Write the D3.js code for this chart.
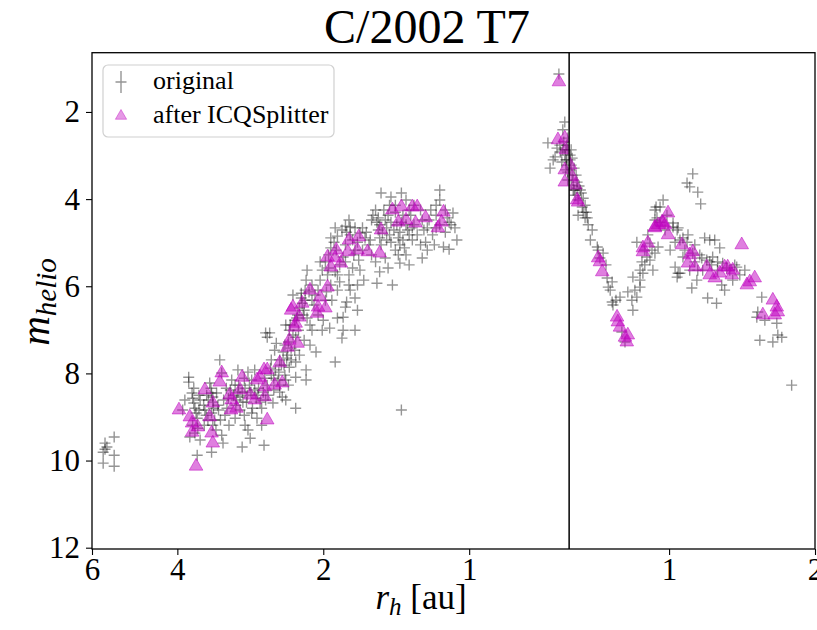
<!DOCTYPE html>
<html>
<head>
<meta charset="utf-8">
<script src="https://cdn.jsdelivr.net/npm/d3@7/dist/d3.min.js"></script>
<style>
  body { margin: 0; background: #fff; }
  svg { display: block; }
  text { font-family: "Liberation Serif", "DejaVu Serif", serif; fill: #000; }
</style>
</head>
<body>
<svg id="chart" width="817" height="630"></svg>
<script>
// C/2002 T7 (LINEAR): heliocentric magnitude vs heliocentric distance,
// inbound leg on the left (r falling to perihelion), outbound leg on the right.
const perihelionAU = 0.622;

// [r_h (au), m_helio] — all observations, inbound
const originalInbound = [
  [5.64,9.60],[5.59,9.69],[5.64,9.74],[5.69,9.81],[5.40,9.46],[5.40,9.88],[5.69,10.06],[5.40,10.13],
  [3.79,8.09],[3.79,8.20],[3.73,8.45],[3.72,8.57],[3.70,8.68],[3.68,8.80],[3.66,8.91],[3.64,9.03],[3.72,9.19],[3.63,9.26],[3.68,9.37],[3.77,9.46],[3.64,9.88],[3.86,8.61],[3.59,9.53],[3.90,8.84],[3.61,8.50],
  [3.59,8.61],[3.53,8.73],[3.49,8.96],[3.46,9.07],[3.45,8.61],[3.32,8.45],[3.29,8.84],[3.26,9.07],[3.21,8.61],[3.16,8.80],[3.52,9.19],[3.61,8.84],[3.70,8.34],
  [3.43,8.22],[3.41,8.34],[3.40,8.45],[3.38,8.54],[3.38,8.66],[3.37,8.80],[3.40,8.91],[3.35,9.07],[3.38,9.19],[3.33,9.30],[3.27,7.69],[3.24,7.99],[3.24,9.42],[3.22,9.60],[3.40,9.81],[3.48,8.50],[3.30,8.73],[3.19,8.96],[3.14,8.57],[3.51,8.84],[3.17,8.34],[3.13,9.19],
  [3.09,8.15],[3.04,8.27],[3.00,8.43],[2.97,8.54],[2.93,8.66],[2.90,8.34],[2.87,8.50],[3.03,8.73],[2.97,8.84],[2.91,8.96],[2.94,9.69],[2.83,9.49],[2.65,9.65],[2.81,8.15],[2.77,8.38],[2.73,8.50],[2.70,8.66],[2.68,8.80],[2.86,7.97],[3.00,7.92],[2.64,8.11],[2.61,8.27],[2.63,7.07],[2.80,8.80],[2.74,9.03],[2.68,9.19],[2.90,9.19],[3.04,9.03],[2.60,8.50],[2.77,7.92],[2.86,9.30],
  [3.11,8.38],[3.06,8.50],[3.02,8.61],[2.99,8.27],[2.94,8.43],[2.88,8.66],[2.84,8.27],[2.82,8.43],[2.75,8.57],[2.72,8.34],[2.66,8.43],[2.63,8.61],[2.81,8.91],[2.91,8.11],
  [2.58,7.07],[2.61,7.17],[2.52,7.47],[2.46,7.69],[2.35,7.86],[2.43,8.54],[2.39,8.61],[2.54,8.68],[2.28,8.80],[2.56,8.04],[2.51,7.92],[2.48,8.15],[2.46,8.27],[2.40,8.04],[2.37,7.58],[2.33,7.42],[2.40,7.35],[2.35,7.01],[2.31,6.20],[2.29,6.78],[2.26,6.66],[2.28,7.17],[2.53,8.38],[2.44,7.81],[2.36,8.27],[2.56,7.69],[2.50,7.31],[2.33,7.69],[2.39,6.89],[2.25,7.01],
  [2.57,7.88],[2.53,8.11],[2.47,7.97],[2.41,7.81],[2.38,7.65],[2.42,7.51],[2.36,7.28],[2.31,7.12],[2.34,6.89],[2.27,6.73],[2.24,6.50],[2.22,6.27],[2.18,6.32],[2.14,6.13],[2.20,6.66],[2.29,7.47],[2.28,7.74],[2.46,8.43],[2.39,8.15],
  [2.22,6.16],[2.21,6.39],[2.17,7.92],[2.17,8.15],[2.28,8.09],[2.16,5.63],[2.17,5.86],[2.11,5.97],[2.03,5.86],[2.01,7.01],[1.94,6.96],[2.19,6.55],[2.16,6.73],[2.13,6.89],[2.11,6.32],[2.08,6.20],[2.05,6.09],[2.09,6.43],[2.19,7.24],[2.13,7.35],[2.05,6.66],[1.98,6.32],[1.96,5.74],[1.95,5.58],[2.07,7.51],[2.24,7.58],[2.00,6.78],[2.18,6.09],[2.03,5.44],[2.11,7.01],
  [1.93,4.89],[1.77,4.48],[1.76,4.64],[1.68,4.78],[1.88,5.17],[1.82,5.33],[1.70,5.97],[1.72,6.27],[1.79,6.36],[1.80,6.48],[1.82,6.71],[1.87,6.73],[1.82,7.01],[1.83,7.19],[1.72,7.01],[1.89,7.74],[1.85,5.51],[1.80,5.05],[1.74,4.94],[1.72,5.17],[1.89,5.67],[1.85,5.90],[1.77,5.74],[1.74,5.58],[1.69,5.40],[1.66,5.17],[1.64,4.89],[1.61,5.05],[1.87,6.09],[1.92,6.32],[1.76,6.09],[1.68,5.63],[1.65,5.86],[1.70,6.55],[1.79,4.76],[1.89,4.66],
  [2.01,5.63],[1.98,5.44],[1.95,5.28],[1.93,5.12],[1.90,4.99],[1.87,4.85],[1.83,4.71],[1.80,4.62],[1.76,4.82],[1.72,4.66],[1.70,4.99],[1.73,5.28],[1.80,5.44],[1.87,5.74],[1.93,5.97],[1.97,6.13],[1.77,5.97],[1.66,4.66],[1.63,4.76],
  [1.52,3.86],[1.45,3.95],[1.38,3.86],[1.58,4.37],[1.55,4.53],[1.54,4.71],[1.53,4.89],[1.52,5.05],[1.49,4.48],[1.48,4.66],[1.46,4.82],[1.45,4.99],[1.42,5.17],[1.41,4.59],[1.39,4.76],[1.37,4.94],[1.36,5.12],[1.34,4.71],[1.55,5.93],[1.44,5.97],[1.33,5.51],[1.39,5.47],[1.59,5.28],[1.56,5.44],[1.49,5.35],[1.47,5.58],[1.40,5.28],[1.38,4.53],[1.60,4.94],[1.50,4.25],[1.42,4.30],[1.35,5.28],[1.53,5.67],[1.46,4.14],[1.38,8.84],
  [1.59,4.48],[1.56,4.25],[1.54,4.43],[1.53,4.59],[1.51,4.78],[1.48,4.94],[1.47,4.37],[1.45,4.53],[1.43,4.71],[1.40,4.89],[1.39,5.05],[1.37,4.37],[1.35,4.59],[1.33,4.82],[1.33,4.25],[1.31,4.66],[1.42,4.14],[1.35,4.02],
  [1.15,3.79],[1.15,4.02],[1.08,4.32],[1.09,4.59],[1.23,4.99],[1.18,5.05],[1.13,5.10],[1.10,5.15],[1.25,5.35],[1.32,4.37],[1.30,4.59],[1.28,4.82],[1.26,5.05],[1.24,4.71],[1.21,4.48],[1.20,4.25],[1.17,4.66],[1.12,4.76],[1.11,4.43],[1.31,4.94],[1.22,5.17],[1.30,4.14],[1.06,4.94],[1.07,4.66],
  [1.26,4.25],[1.25,4.48],[1.22,4.66],[1.19,4.82],[1.17,4.37],[1.15,4.59],[1.12,4.25],[1.10,4.53],[1.17,4.14],
  [0.653,1.13],[0.635,2.23],[0.641,2.41],[0.688,2.71],[0.665,3.03],[0.671,3.10],[0.681,3.29],[0.644,3.15],[0.629,2.76],[0.626,2.87],[0.632,2.87],[0.626,2.60],[0.629,3.10],[0.632,3.33],
  [0.650,2.76],[0.641,2.87],[0.635,2.99],[0.632,3.10],[0.629,3.22],[0.626,3.38],[0.626,3.56],[0.638,2.69],[0.647,2.92],[0.659,2.83]
];

// [r_h (au), m_helio] — all observations, outbound
const originalOutbound = [
  [0.625,2.99],[0.625,3.10],[0.628,3.22],[0.625,3.33],[0.631,3.45],[0.634,3.56],[0.628,3.68],[0.637,3.79],[0.646,3.75],[0.656,3.79],[0.662,4.18],[0.665,4.30],[0.681,4.59],[0.694,4.71],[0.688,4.94],[0.711,5.10],[0.714,5.17],[0.731,5.24],
  [0.631,3.06],[0.637,3.29],[0.643,3.45],[0.646,3.61],[0.652,3.70],[0.659,3.86],[0.665,3.98],[0.671,4.14],[0.675,4.30],[0.678,4.43],[0.628,2.87],[0.634,3.79],
  [0.745,5.81],[0.763,5.90],[0.749,6.02],[0.756,6.09],[0.763,6.36],[0.766,6.43],[0.792,6.25],[0.799,7.05],[0.811,7.28],[0.822,6.13],[0.850,6.09],[0.871,6.02],[0.838,6.32],[0.858,6.25],[0.842,6.55],[0.842,5.79],[0.871,5.63],[0.883,5.70],[0.879,5.44],[0.900,5.33],[0.858,4.99],[0.904,4.82],[0.913,5.01],[0.935,5.24],[0.926,5.63],[0.949,5.10],[0.935,4.25],[0.944,4.43],[0.972,4.02],[0.958,4.18],
  [1.019,4.64],[1.039,4.71],[1.029,5.56],[1.044,5.70],[1.119,3.42],[1.089,3.63],[1.103,3.72],[1.146,3.84],[1.162,4.11],[0.940,4.18],[0.935,4.48],[1.019,4.55],[1.044,4.66],[1.029,4.99],[1.068,4.89],[1.094,4.82],[1.089,4.99],[1.184,4.89],[1.213,4.94],[1.242,4.94],[1.272,5.12],[1.119,5.24],[1.068,5.33],[1.053,5.70],[1.039,5.79],[1.114,6.04],[1.141,5.86],[1.201,6.27],[1.253,6.39],[1.302,6.09],[1.284,5.97],[1.173,5.63],[1.196,5.40],[1.230,5.33],[1.290,5.47],[1.334,5.63],[1.353,5.86],[1.379,5.56],
  [0.871,5.86],[0.891,5.51],[0.922,5.17],[0.958,4.53],[0.990,4.37],[1.053,4.94],[1.130,5.05],[1.168,5.35],[1.213,5.44],[1.259,5.44],[1.315,5.58],[1.366,5.51],[1.146,5.63],[1.103,5.63],[0.777,6.32],[0.741,5.51],[0.720,5.35],
  [1.553,6.25],[1.524,6.59],[1.517,6.71],[1.576,6.78],[1.668,6.85],[1.676,7.12],[1.708,7.17],[1.539,7.24],[1.637,7.28],[1.790,8.27],
  [0.640,3.91],[0.649,4.02],[0.671,4.43],[0.891,5.17],[0.913,5.40],[0.981,4.71],[1.005,5.17],[1.078,5.17],[1.130,5.44],[1.157,5.28],[1.224,5.51],[1.259,5.63],[1.399,5.74],[1.433,5.63],[0.649,4.37]
];

// [r_h (au), m_helio] — after ICQSplitter, inbound
const splitterInbound = [
  [3.97,8.84],[3.77,9.00],[3.73,9.14],[3.63,9.23],[3.73,9.35],[3.66,10.13],[3.38,8.68],[3.43,9.00],[3.40,9.37],[3.38,9.60],[3.24,7.99],[3.27,8.20],[3.09,8.61],[3.10,8.84],[3.02,8.80],[2.94,8.09],[2.97,8.38],[2.74,8.15],[2.65,7.92],[2.64,8.54],[2.77,8.61],[2.61,9.07],[2.61,7.92],[2.70,8.09],[2.46,7.76],[2.43,8.22],[2.64,8.31],
  [2.21,6.39],[2.31,6.48],[2.33,6.55],[2.24,6.71],[2.29,6.94],[2.35,7.24],[2.37,7.40],[2.28,6.85],[2.26,7.31],[1.96,6.02],[2.03,6.25],[2.05,6.48],[1.98,6.50],[2.06,6.62],[1.96,5.33],[1.88,5.17],[1.93,5.56],[1.84,5.47],[1.77,4.94],[1.69,4.87],[1.78,5.21],[1.70,5.17],[1.62,5.21],
  [1.44,4.25],[1.38,4.18],[1.31,4.18],[1.28,4.18],[1.23,4.43],[1.13,4.30],[1.14,4.53],[1.16,4.66],[1.40,4.53],[1.35,4.48],[1.52,4.71],[1.53,5.24],[1.29,4.55],[3.51,8.38],[3.12,8.50],[2.83,8.50],[2.52,8.27],[2.13,6.09],[1.89,5.35],
  [0.653,1.31],[0.656,2.64],[0.635,2.60],[0.635,3.33],[0.635,3.61],[0.632,2.87]
];

// [r_h (au), m_helio] — after ICQSplitter, outbound
const splitterOutbound = [
  [0.625,3.22],[0.631,3.49],[0.640,3.68],[0.646,4.02],[0.649,4.07],[0.714,5.35],[0.720,5.44],[0.728,5.67],[0.781,6.71],[0.784,6.82],[0.792,6.94],[0.811,7.17],[0.818,7.28],[0.822,7.12],
  [0.883,5.21],[0.904,5.01],[0.935,4.64],[0.949,4.59],[0.972,4.55],[0.995,4.32],[0.995,4.82],[0.967,4.53],[0.981,4.59],[0.935,4.66],[0.883,5.12],
  [1.063,5.05],[1.103,5.28],[1.119,5.21],[1.094,5.47],[1.130,5.56],[1.196,5.56],[1.213,5.74],[1.242,5.81],[1.272,5.70],[1.302,5.56],[1.321,5.56],[1.353,5.63],[1.347,5.74],[1.412,5.05],[1.467,5.90],[1.502,5.81],[1.447,5.97],
  [1.561,6.66],[1.637,6.32],[1.668,6.48],[1.676,6.59],[1.652,6.66]
];

const inboundTicks = [6, 4, 2, 1];
const outboundTicks = [1, 2];
const magTicks = [2, 4, 6, 8, 10, 12];
const inboundLimits = [6, perihelionAU];
const outboundLimits = [perihelionAU, 2];
const magLimits = [0.64, 12.03];

const seriesNames = ["original", "after ICQSplitter"];
const crossColor = "#000";
const triColor = "#bf00bf";

const svg = d3.select("#chart");
const frame = { left: 92, right: 815, top: 52.7, bottom: 549 };

// both legs share one px-per-decade, split at perihelion
const pxPerDecade = (frame.right - frame.left) /
  (Math.log10(inboundLimits[0] / perihelionAU) + Math.log10(outboundLimits[1] / perihelionAU));
const splitX = frame.left + pxPerDecade * Math.log10(inboundLimits[0] / perihelionAU);
const xIn = d3.scaleLog().domain(inboundLimits).range([frame.left, splitX]);
const xOut = d3.scaleLog().domain(outboundLimits).range([splitX, frame.right]);
const y = d3.scaleLinear().domain(magLimits).range([frame.top, frame.bottom]);

// clip regions for the two legs
const defs = svg.append("defs");
defs.append("clipPath").attr("id", "clipIn").append("rect")
  .attr("x", frame.left).attr("y", frame.top).attr("width", splitX - frame.left).attr("height", frame.bottom - frame.top);
defs.append("clipPath").attr("id", "clipOut").append("rect")
  .attr("x", splitX).attr("y", frame.top).attr("width", frame.right - splitX).attr("height", frame.bottom - frame.top);

const crossArm = 5.5;
function drawCrosses(g, data, xs) {
  g.selectAll("path.cross").data(data).join("path")
    .attr("class", "cross")
    .attr("d", d => {
      const cx = xs(d[0]), cy = y(d[1]);
      return `M${cx - crossArm},${cy}H${cx + crossArm}M${cx},${cy - crossArm}V${cy + crossArm}`;
    })
    .attr("stroke", crossColor)
    .attr("stroke-opacity", 0.42)
    .attr("stroke-width", 1.4)
    .attr("fill", "none");
}
const tri = d3.symbol().type(d3.symbolTriangle).size(80);
function drawTriangles(g, data, xs) {
  g.selectAll("path.tri").data(data).join("path")
    .attr("class", "tri")
    .attr("d", tri)
    .attr("transform", d => `translate(${xs(d[0])},${y(d[1])})`)
    .attr("fill", triColor)
    .attr("fill-opacity", 0.5)
    .attr("stroke", triColor)
    .attr("stroke-opacity", 0.5)
    .attr("stroke-width", 1);
}

const gIn = svg.append("g").attr("clip-path", "url(#clipIn)");
const gOut = svg.append("g").attr("clip-path", "url(#clipOut)");
drawCrosses(gIn.append("g"), originalInbound, xIn);
drawCrosses(gOut.append("g"), originalOutbound, xOut);
drawTriangles(gIn.append("g"), splitterInbound, xIn);
drawTriangles(gOut.append("g"), splitterOutbound, xOut);

// axes
const tickFont = 31;
function styleAxis(g) {
  g.attr("font-family", null).attr("font-size", null);
  g.select(".domain").remove();
  g.selectAll(".tick line").attr("stroke", "#000").attr("stroke-width", 1.1);
  g.selectAll(".tick text").style("font-size", tickFont + "px")
    .style("font-family", '"Liberation Serif", serif');
}
svg.append("g").attr("transform", `translate(0,${frame.bottom})`)
  .call(d3.axisBottom(xIn).tickValues(inboundTicks).tickFormat(d3.format("d")).tickSize(6).tickPadding(3))
  .call(styleAxis);
svg.append("g").attr("transform", `translate(0,${frame.bottom})`)
  .call(d3.axisBottom(xOut).tickValues(outboundTicks).tickFormat(d3.format("d")).tickSize(6).tickPadding(3))
  .call(styleAxis);
svg.append("g").attr("transform", `translate(${frame.left},0)`)
  .call(d3.axisLeft(y).tickValues(magTicks).tickFormat(d3.format("d")).tickSize(6).tickPadding(6))
  .call(styleAxis);

// frame and perihelion divider
svg.append("rect")
  .attr("x", frame.left).attr("y", frame.top)
  .attr("width", frame.right - frame.left).attr("height", frame.bottom - frame.top)
  .attr("fill", "none").attr("stroke", "#000").attr("stroke-width", 1.3);
svg.append("line")
  .attr("x1", splitX).attr("x2", splitX).attr("y1", frame.top).attr("y2", frame.bottom)
  .attr("stroke", "#000").attr("stroke-width", 1.5);

// title
svg.append("text")
  .attr("x", 427).attr("y", 43).attr("text-anchor", "middle")
  .style("font-size", "48px")
  .text("C/2002 T7");

// axis labels
const xl = svg.append("text").attr("x", 421).attr("y", 609).attr("text-anchor", "middle")
  .style("font-size", "35px");
xl.append("tspan").style("font-style", "italic").text("r");
xl.append("tspan").style("font-style", "italic").style("font-size", "25px").attr("dy", 6).text("h");
xl.append("tspan").attr("dy", -6).text(" [au]");

const yl = svg.append("text").attr("transform", "translate(49,302) rotate(-90)")
  .attr("text-anchor", "middle").style("font-size", "41px");
yl.append("tspan").style("font-style", "italic").text("m");
yl.append("tspan").style("font-style", "italic").style("font-size", "29px").attr("dy", 7).text("helio");

// legend
const lg = svg.append("g");
lg.append("rect").attr("x", 103).attr("y", 65).attr("width", 231).attr("height", 72).attr("rx", 5)
  .attr("fill", "#fff").attr("fill-opacity", 0.8).attr("stroke", "#d0d0d0").attr("stroke-width", 1.2);
const hx = 121;
lg.append("path").attr("d", `M${hx},${71}V${93}M${hx - crossArm},${82}H${hx + crossArm}`)
  .attr("stroke", crossColor).attr("stroke-opacity", 0.42).attr("stroke-width", 1.4);
lg.append("path").attr("d", d3.symbol().type(d3.symbolTriangle).size(55)).attr("transform", `translate(${hx},${116})`)
  .attr("fill", triColor).attr("fill-opacity", 0.4).attr("stroke", triColor).attr("stroke-opacity", 0.4);
lg.selectAll("text.lab").data(seriesNames).join("text").attr("class", "lab")
  .attr("x", 153).attr("y", (d, i) => 89 + i * 34)
  .style("font-size", "26px").text(d => d);
</script>
</body>
</html>
